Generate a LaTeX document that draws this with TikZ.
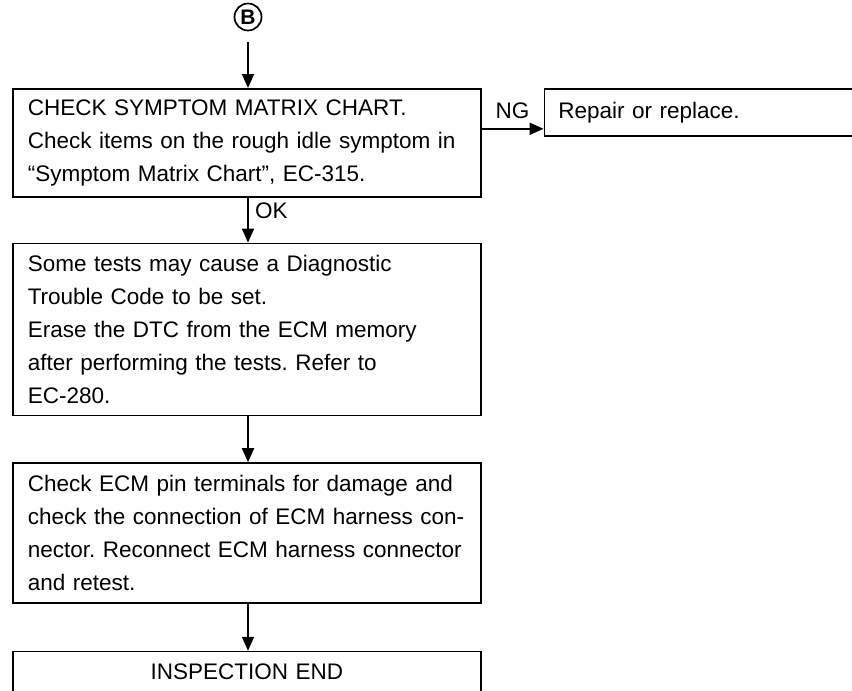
\documentclass[tikz,border=0pt]{standalone}
\usepackage{fontspec}
\setmainfont{Liberation Sans}
\usetikzlibrary{arrows.meta,positioning}
\frenchspacing

\tikzset{
  chartbox/.style={draw, line width=1.6pt, anchor=north west, align=left,
    text width=438pt, inner xsep=15pt, inner ysep=0pt, minimum width=468pt,
    font=\fontsize{22.5}{33}\selectfont},
  flowarrow/.style={-{Triangle[length=14pt,width=12pt]}, line width=1.8pt},
  branch/.style={font=\fontsize{22.5}{22.5}\selectfont}
}

\begin{document}
\begin{tikzpicture}[x=1pt,y=-1pt]
\useasboundingbox (0,0) rectangle (852,691);

\node[circle, draw, line width=1.7pt, minimum size=27pt, inner sep=0pt,
  font=\fontsize{21}{21}\selectfont\bfseries] (B) at (248,17) {B};

\node[chartbox, minimum height=108pt] (chk) at (12,88)
  {CHECK SYMPTOM MATRIX CHART.\\
   Check items on the rough idle symptom in\\
   ``Symptom Matrix Chart'', EC-315.};
\node[chartbox, minimum height=47pt, minimum width=340pt, text width=312pt,
  inner xsep=14pt] (ng) at ([xshift=62pt]chk.north east) {Repair or replace.};

\node[chartbox, minimum height=172pt, below=45pt of chk] (tests)
  {Some tests may cause a Diagnostic\\
   Trouble Code to be set.\\
   Erase the DTC from the ECM memory\\
   after performing the tests. Refer to\\
   EC-280.};
\node[chartbox, minimum height=140pt, below=46pt of tests] (ecm)
  {Check ECM pin terminals for damage and\\
   check the connection of ECM harness con-\\
   nector. Reconnect ECM harness connector\\
   and retest.};
% last box runs off the lower edge of the page
\node[chartbox, align=center, text height=28pt, text depth=60pt,
  below=47pt of ecm] (done) {INSPECTION END};

\draw[flowarrow] ([yshift=-11pt]B.south) -- (B |- chk.north);
\draw[flowarrow] (B |- chk.south) -- (B |- tests.north)
  node[branch, pos=0.3, right=3pt] {OK};
\coordinate (ngin) at ([yshift=-16.5pt]ng.west);
\draw[flowarrow] (ngin -| chk.east) -- (ngin)
  node[branch, midway, above=6pt] {NG};
\draw[flowarrow] (B |- tests.south) -- (B |- ecm.north);
\draw[flowarrow] (B |- ecm.south) -- (B |- done.north);
\end{tikzpicture}
\end{document}
